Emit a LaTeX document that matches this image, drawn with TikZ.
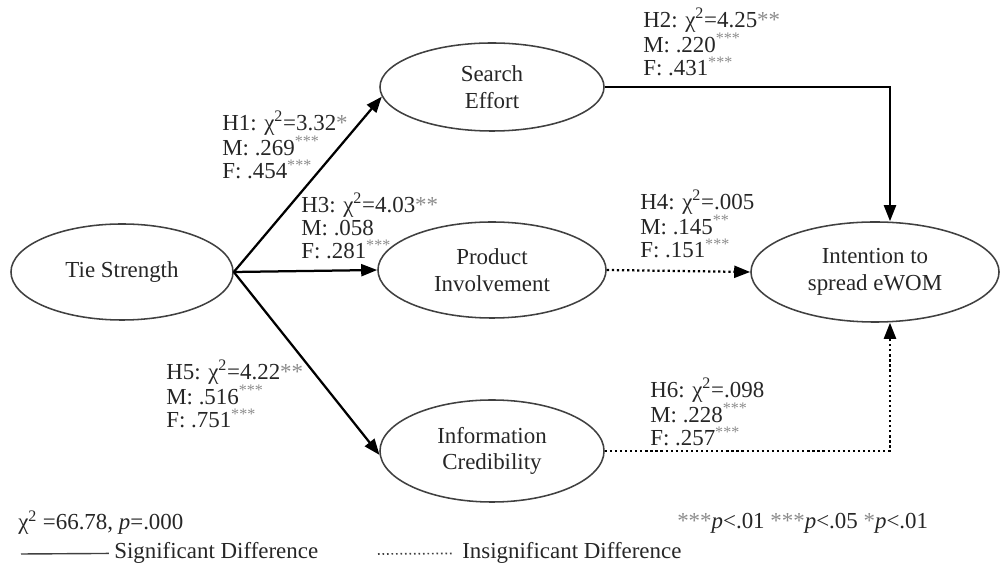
\documentclass[tikz,border=0pt]{standalone}
\usepackage{fontspec}
\setmainfont{Liberation Serif}
\usetikzlibrary{shapes.geometric, arrows.meta}
\tikzstyle{construct} = [ellipse, draw=black!75, line width=1.1pt, align=center, text=black!85, inner sep=0pt, font=\fontsize{16.3}{19}\selectfont]
\tikzstyle{arrow} = [line width=1.6pt, -{Triangle[length=4mm,width=3mm]}]
\tikzstyle{sig} = [arrow]
\tikzstyle{insig} = [arrow, dotted]
\tikzstyle{est} = [anchor=base west, align=left, text=black!85, inner sep=0pt, font=\fontsize{16.3}{16.5}\selectfont]
\newcommand{\gs}[1]{{\color{black!45}#1}}
\newcommand{\sthree}{\textsuperscript{\gs{***}}}
\newcommand{\stwo}{\textsuperscript{\gs{**}}}
\newcommand{\chisq}{χ\textsuperscript{2}}

\begin{document}
\begin{tikzpicture}[x=0.025cm, y=-0.025cm]
        \useasboundingbox (0,0) rectangle (1002,569);
        % constructs
        \node[construct, minimum width=5.55cm, minimum height=2.4cm] (ts) at (122,272) {Tie Strength};
        \node[construct, minimum width=5.6cm, minimum height=2.2cm] (se) at (492,87) {Search\\Effort};
        \node[construct, minimum width=5.7cm, minimum height=2.4cm] (pi) at (492,270) {Product\\Involvement};
        \node[construct, minimum width=5.6cm, minimum height=2.55cm] (ic) at (492,451) {Information\\Credibility};
        \node[construct, minimum width=6.2cm, minimum height=2.5cm] (it) at (875,272) {Intention to\\spread eWOM};
        % paths
        \draw[sig] (ts.east) -- (se.185);
        \draw[sig] (ts.east) -- (pi.west);
        \draw[sig] (ts.east) -- (ic.182);
        \draw[sig] (se.east) -| ([xshift=0.375cm]it.north);
        \draw[insig] (pi.east) -- (it.west);
        \draw[insig] (ic.east) -| ([xshift=0.375cm]it.south);
        % estimates (placed at the baseline of the last line)
        \node[est] (h1) at (222,179) {H1: \chisq=3.32\gs{*}\\M: .269\sthree\\F: .454\sthree};
        \node[est] (h2) at (643,76) {H2: \chisq=4.25\gs{**}\\M: .220\sthree\\F: .431\sthree};
        \node[est] (h3) at (301,259) {H3: \chisq=4.03\gs{**}\\M: .058\\F: .281\sthree};
        \node[est] (h4) at (640,258) {H4: \chisq=.005\\M: .145\stwo\\F: .151\sthree};
        \node[est] (h5) at (166,428) {H5: \chisq=4.22\gs{**}\\M: .516\sthree\\F: .751\sthree};
        \node[est] (h6) at (650,446) {H6: \chisq=.098\\M: .228\sthree\\F: .257\sthree};
        % fit and legend
        \node[est] (fit) at (18,530) {\chisq{} =66.78, \textit{p}=.000};
        \node[est] (pv) at (677,529) {\gs{***}\textit{p}<.01 \gs{***}\textit{p}<.05 \gs{*}\textit{p}<.01};
        \node[est] (sd) at (114,559) {Significant Difference};
        \node[est] (id) at (462,559) {Insignificant Difference};
        \coordinate (s1) at (21,554);
        \coordinate (d1) at (378,554);
        \draw[line width=1pt, black!75, shorten >=0.13cm] (s1) -- (sd.west);
        \draw[line width=1.2pt, black!75, dotted, shorten >=0.2cm] (d1) -- (id.west);
\end{tikzpicture}
\end{document}
